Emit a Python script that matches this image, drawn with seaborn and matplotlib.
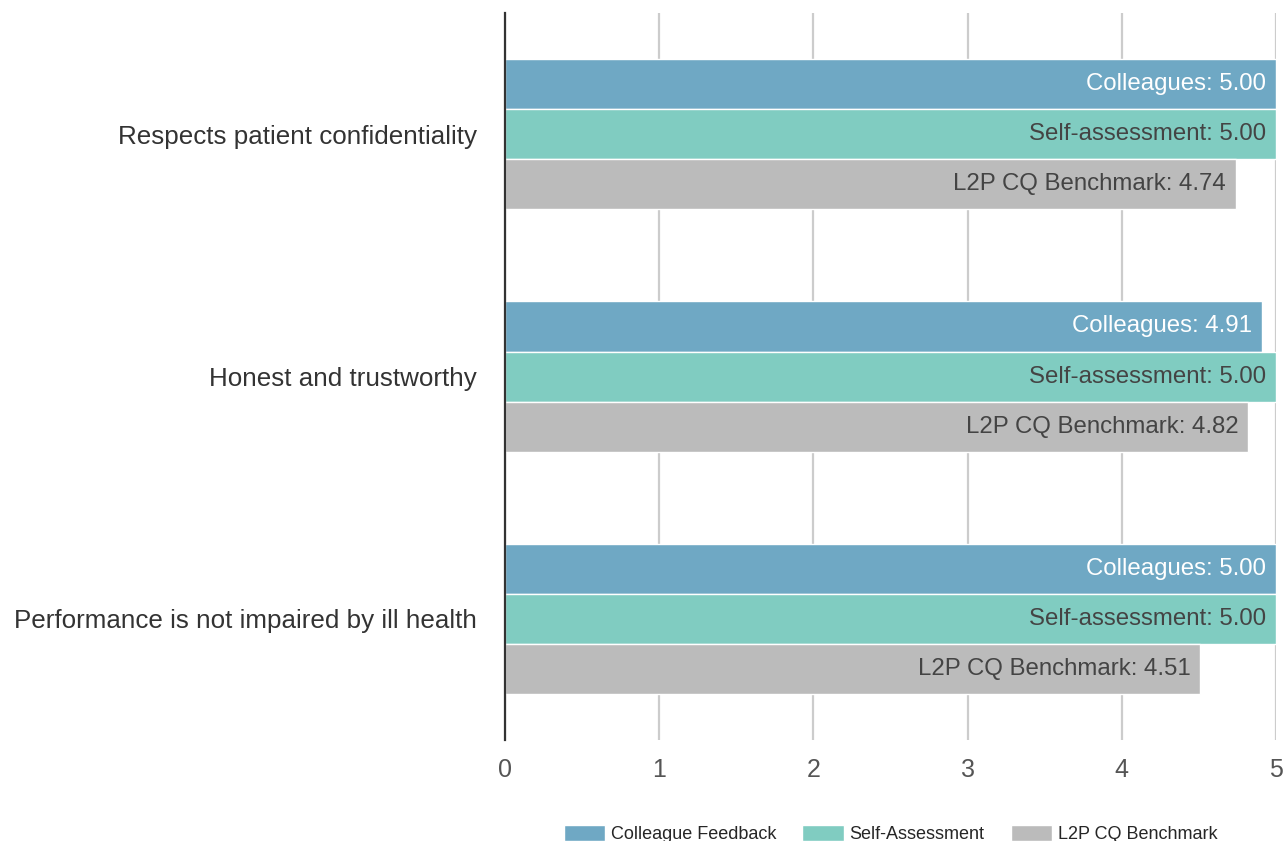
import pandas as pd
import matplotlib.pyplot as plt
import seaborn as sns
from matplotlib.patches import Patch

# Data
categories = ["Respects patient confidentiality", "Honest and trustworthy",
              "Performance is not impaired by ill health"]
series = ["Colleague Feedback", "Self-Assessment", "L2P CQ Benchmark"]
label_prefix = ["Colleagues", "Self-assessment", "L2P CQ Benchmark"]
colleagues = [5.00, 4.91, 5.00]
self_assessment = [5.00, 5.00, 5.00]
benchmark = [4.74, 4.82, 4.51]

colors = ["#6fa8c4", "#80ccc1", "#bbbbbb"]
text_colors = ["white", "#444444", "#444444"]

df = pd.DataFrame({
    "Question": categories * 3,
    "Series": [s for s in series for _ in categories],
    "Score": colleagues + self_assessment + benchmark,
})

sns.set_style("white")
plt.rcParams["font.family"] = ["Liberation Sans", "DejaVu Sans"]

fig = plt.figure(figsize=(12.85, 8.41), dpi=100)
ax = fig.add_axes([0.393, 0.120, 0.600, 0.8645])

sns.barplot(data=df, y="Question", x="Score", hue="Series", orient="h",
            palette=colors, saturation=1, width=0.62, edgecolor="white",
            linewidth=1, ax=ax, legend=False)

# Value labels inside the bar ends
for i, cont in enumerate(ax.containers):
    for bar in cont:
        w = bar.get_width()
        yc = bar.get_y() + bar.get_height() / 2
        ax.annotate(f"{label_prefix[i]}: {w:.2f}", xy=(w, yc), xytext=(-7, 0),
                    textcoords="offset points", ha="right", va="center",
                    fontsize=17.3, color=text_colors[i])

ax.set_xlim(0, 5)
ax.set_ylim(2.5, -0.5)
ax.set_xticks(range(6))
ax.grid(axis="x", color="#cccccc", linewidth=1.6)
ax.set_axisbelow(True)
for s in ["top", "right", "bottom"]:
    ax.spines[s].set_visible(False)
ax.spines["left"].set_color("#333333")
ax.spines["left"].set_linewidth(1.6)
ax.spines["left"].set_zorder(5)
ax.tick_params(axis="both", length=0)
ax.tick_params(axis="y", labelsize=18.75, labelcolor="#333333", pad=20)
ax.tick_params(axis="x", labelsize=18, labelcolor="#555555", pad=13)
ax.set_xlabel("")
ax.set_ylabel("")

handles = [Patch(facecolor=c, label=s) for c, s in zip(colors, series)]
fig.legend(handles=handles, loc="lower center", bbox_to_anchor=(0.693, -0.022),
           ncol=3, frameon=False, fontsize=13, handlelength=2.3, handleheight=1.0,
           columnspacing=1.45, handletextpad=0.3)

fig.savefig("out.png", dpi=100)
